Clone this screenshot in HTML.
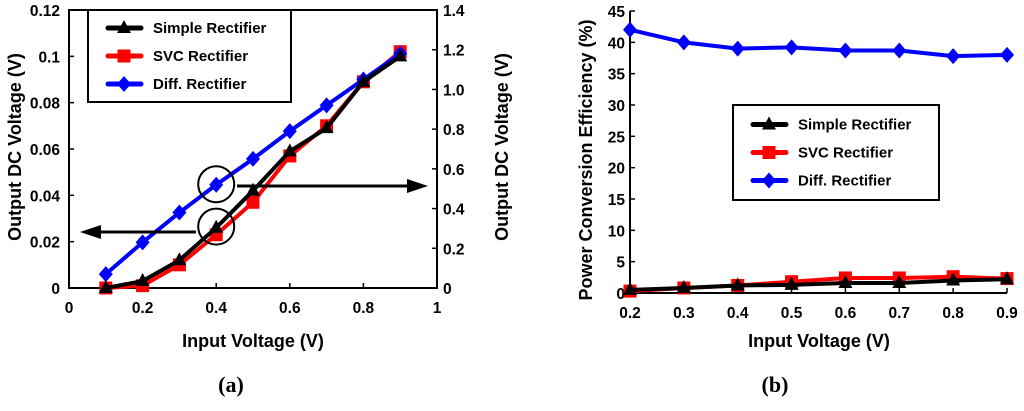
<!DOCTYPE html>
<html><head><meta charset="utf-8"><style>
body{margin:0;background:#fff}
svg text{font-family:"Liberation Sans",Arial,sans-serif;font-weight:bold;fill:#000}
svg text.serif{font-family:"Liberation Serif",serif}
</style></head><body>
<svg id="c" width="1024" height="406" viewBox="0 0 1024 406" xmlns="http://www.w3.org/2000/svg"></svg>
<script>
const xA=[0.1,0.2,0.3,0.4,0.5,0.6,0.7,0.8,0.9];
const simpleA=[0,0.003,0.012,0.026,0.042,0.059,0.069,0.089,0.1];
const svcA=[0,0.001,0.01,0.023,0.037,0.057,0.07,0.089,0.102];
const diffA=[0.07,0.23,0.38,0.52,0.65,0.79,0.92,1.05,1.18];
const xTicksA=[0,0.2,0.4,0.6,0.8,1];
const yTicksA=[0,0.02,0.04,0.06,0.08,0.1,0.12];
const y2TicksA=[0,0.2,0.4,0.6,0.8,1.0,1.2,1.4];
const xB=[0.2,0.3,0.4,0.5,0.6,0.7,0.8,0.9];
const simpleB=[0.5,0.8,1.2,1.3,1.6,1.6,2.0,2.2];
const svcB=[0.3,0.8,1.2,1.8,2.4,2.4,2.6,2.3];
const diffB=[42,40,39,39.2,38.7,38.7,37.8,38];
const yTicksB=[0,5,10,15,20,25,30,35,40,45];

const svg=document.getElementById('c');
const NS='http://www.w3.org/2000/svg';
const TF=15.5, AF=18, LF=15;
function mk(tag,at,parent){const e=document.createElementNS(NS,tag);for(const k in at)e.setAttribute(k,at[k]);(parent||svg).appendChild(e);return e;}
function txt(s,x,y,size,anchor,parent,rot){const e=mk('text',{x:x,y:y,'font-size':size,'text-anchor':anchor||'middle'},parent);if(rot)e.setAttribute('transform',rot);e.textContent=s;return e;}
function marker(kind,x,y,color,g){
 if(kind==='tri')return mk('polygon',{points:`${x},${y-8} ${x-7},${y+5} ${x+7},${y+5}`,fill:color},g);
 if(kind==='sq')return mk('rect',{x:x-6.5,y:y-6.5,width:13,height:13,fill:color},g);
 return mk('polygon',{points:`${x},${y-8} ${x+7},${y} ${x},${y+8} ${x-7},${y}`,fill:color},g);
}
function series(name,xs,ys,sx,sy,color,kind){
 const g=mk('g',{});
 
 
 mk('polyline',{points:xs.map((v,i)=>sx(v)+','+sy(ys[i])).join(' '),fill:'none',stroke:color,'stroke-width':4,'stroke-linejoin':'round'},g);
 xs.forEach((v,i)=>{const m=marker(kind,sx(v),sy(ys[i]),color,g);});
}
function legend(x,y,w,h,gap,name){
 const g=mk('g',{});
 
 
 mk('rect',{x:x,y:y,width:w,height:h,fill:'#fff',stroke:'#000','stroke-width':2},g);
 [['Simple Rectifier','#000','tri'],['SVC Rectifier','#f00','sq'],['Diff. Rectifier','#00f','dia']].forEach((it,i)=>{
  const yy=y+h/2+(i-1)*gap;
  const e=mk('g',{},g);
  
  
  mk('line',{x1:x+20,y1:yy,x2:x+53,y2:yy,stroke:it[1],'stroke-width':5,'stroke-linecap':'round'},e);
  marker(it[2],x+36,yy,it[1],e);
  txt(it[0],x+65,yy+5,LF,'start',e);
 });
}
// ---- Chart A
const ax0=69,ax1=437,ay0=288,ay1=10;
const sxA=v=>ax0+(ax1-ax0)*v;
const syA=v=>ay0-(ay0-ay1)*v/0.12;
const sy2A=v=>ay0-(ay0-ay1)*v/1.4;
mk('rect',{x:ax0,y:ay1,width:ax1-ax0,height:ay0-ay1,fill:'none',stroke:'#000','stroke-width':2});
xTicksA.forEach(t=>{mk('line',{x1:sxA(t),y1:ay0,x2:sxA(t),y2:ay0-5,stroke:'#000','stroke-width':1.5});const e=txt(t===0||t===1?String(t):t.toFixed(1),sxA(t),313,TF);});
yTicksA.forEach(t=>{mk('line',{x1:ax0,y1:syA(t),x2:ax0+5,y2:syA(t),stroke:'#000','stroke-width':1.5});const e=txt(t===0?'0':String(t),ax0-9,syA(t)+6,TF,'end');});
y2TicksA.forEach(t=>{mk('line',{x1:ax1,y1:sy2A(t),x2:ax1-5,y2:sy2A(t),stroke:'#000','stroke-width':1.5});const e=txt(t===0?'0':t.toFixed(1),ax1+6,sy2A(t)+6,TF,'start');});
series('svc-series-a',xA,svcA,sxA,syA,'#f00','sq');
series('diff-series-a',xA,diffA,sxA,sy2A,'#00f','dia');
series('simple-series-a',xA,simpleA,sxA,syA,'#000','tri');
mk('circle',{cx:sxA(0.4),cy:syA(0.0448),r:18,fill:'none',stroke:'#000','stroke-width':2});
mk('circle',{cx:sxA(0.4),cy:syA(0.0265),r:18,fill:'none',stroke:'#000','stroke-width':2});
mk('line',{x1:237,y1:186,x2:410,y2:186,stroke:'#000','stroke-width':3});
mk('polygon',{points:'428,186 407,179 407,193',fill:'#000'});
mk('line',{x1:196,y1:232,x2:98,y2:232,stroke:'#000','stroke-width':3});
mk('polygon',{points:'80,232 101,225 101,239',fill:'#000'});
legend(88,10,203,92,28,'legend-a');
let t=txt('Input Voltage (V)',253,347,AF);
t=txt('Output DC Voltage (V)',0,0,AF,'middle',null,'translate(21,147) rotate(-90)');
t=txt('Output DC Voltage (V)',0,0,AF,'middle',null,'translate(508,147) rotate(-90)');
t=mk('text',{x:231,y:392,'font-size':22,'text-anchor':'middle',class:'serif'});t.textContent='(a)';
// ---- Chart B
const bx0=630,bx1=1007,by0=293,by1=11;
const sxB=v=>bx0+(bx1-bx0)*(v-0.2)/0.7;
const syB=v=>by0-(by0-by1)*v/45;
mk('line',{x1:bx0,y1:by1,x2:bx0,y2:by0,stroke:'#000','stroke-width':2});
mk('line',{x1:bx0,y1:by0,x2:bx1,y2:by0,stroke:'#000','stroke-width':2});
xB.forEach(v=>{mk('line',{x1:sxB(v),y1:by0,x2:sxB(v),y2:by0-5,stroke:'#000','stroke-width':1.5});const e=txt(v.toFixed(1),sxB(v),318,TF);});
yTicksB.forEach(v=>{mk('line',{x1:bx0,y1:syB(v),x2:bx0+5,y2:syB(v),stroke:'#000','stroke-width':1.5});const e=txt(String(v),bx0-5,syB(v)+6,TF,'end');});
series('diff-series-b',xB,diffB,sxB,syB,'#00f','dia');
series('svc-series-b',xB,svcB,sxB,syB,'#f00','sq');
series('simple-series-b',xB,simpleB,sxB,syB,'#000','tri');
legend(733,105,206,95,28,'legend-b');
t=txt('Input Voltage (V)',819,347,AF);
t=txt('Power Conversion Efficiency (%)',0,0,AF,'middle',null,'translate(592,160) rotate(-90)');
t=mk('text',{x:775,y:392,'font-size':22,'text-anchor':'middle',class:'serif'});t.textContent='(b)';
</script>
</body></html>
